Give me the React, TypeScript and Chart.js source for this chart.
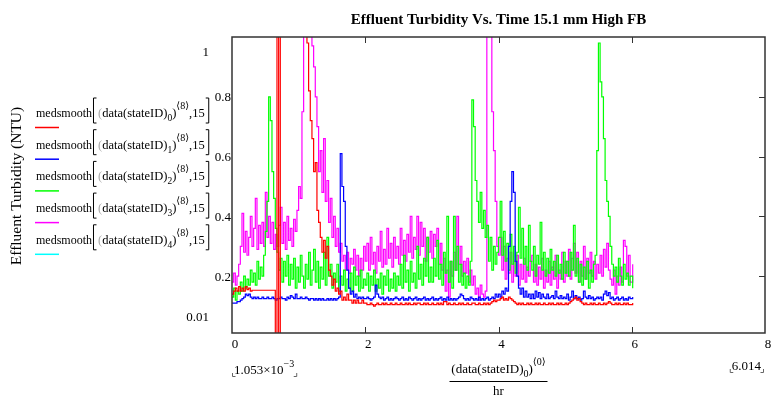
import Chart from 'chart.js/auto'
import { useEffect, useRef } from 'react'

// time in hours (x axis), one row per half hour
const TIME_HR = [
  0.001053, 0.025, 0.05, 0.075, 0.1, 0.125, 0.15, 0.175, 0.2, 0.225, 0.25, 0.275, 0.3, 0.325, 0.35, 0.375, 0.4, 0.425, 0.45, 0.475,
  0.5, 0.525, 0.55, 0.575, 0.6, 0.625, 0.65, 0.675, 0.7, 0.725, 0.75, 0.775, 0.8, 0.825, 0.85, 0.875, 0.9, 0.925, 0.95, 0.975,
  1.0, 1.025, 1.05, 1.075, 1.1, 1.125, 1.15, 1.175, 1.2, 1.225, 1.25, 1.275, 1.3, 1.325, 1.35, 1.375, 1.4, 1.425, 1.45, 1.475,
  1.5, 1.525, 1.55, 1.575, 1.6, 1.625, 1.65, 1.675, 1.7, 1.725, 1.75, 1.775, 1.8, 1.825, 1.85, 1.875, 1.9, 1.925, 1.95, 1.975,
  2.0, 2.025, 2.05, 2.075, 2.1, 2.125, 2.15, 2.175, 2.2, 2.225, 2.25, 2.275, 2.3, 2.325, 2.35, 2.375, 2.4, 2.425, 2.45, 2.475,
  2.5, 2.525, 2.55, 2.575, 2.6, 2.625, 2.65, 2.675, 2.7, 2.725, 2.75, 2.775, 2.8, 2.825, 2.85, 2.875, 2.9, 2.925, 2.95, 2.975,
  3.0, 3.025, 3.05, 3.075, 3.1, 3.125, 3.15, 3.175, 3.2, 3.225, 3.25, 3.275, 3.3, 3.325, 3.35, 3.375, 3.4, 3.425, 3.45, 3.475,
  3.5, 3.525, 3.55, 3.575, 3.6, 3.625, 3.65, 3.675, 3.7, 3.725, 3.75, 3.775, 3.8, 3.825, 3.85, 3.875, 3.9, 3.925, 3.95, 3.975,
  4.0, 4.025, 4.05, 4.075, 4.1, 4.125, 4.15, 4.175, 4.2, 4.225, 4.25, 4.275, 4.3, 4.325, 4.35, 4.375, 4.4, 4.425, 4.45, 4.475,
  4.5, 4.525, 4.55, 4.575, 4.6, 4.625, 4.65, 4.675, 4.7, 4.725, 4.75, 4.775, 4.8, 4.825, 4.85, 4.875, 4.9, 4.925, 4.95, 4.975,
  5.0, 5.025, 5.05, 5.075, 5.1, 5.125, 5.15, 5.175, 5.2, 5.225, 5.25, 5.275, 5.3, 5.325, 5.35, 5.375, 5.4, 5.425, 5.45, 5.475,
  5.5, 5.525, 5.55, 5.575, 5.6, 5.625, 5.65, 5.675, 5.7, 5.725, 5.75, 5.775, 5.8, 5.825, 5.85, 5.875, 5.9, 5.925, 5.95, 5.975,
  6.014
]

// effluent turbidity (NTU), one list per filter column
const COL0 = [
  0.14, 0.15, 0.16, 0.15, 0.165, 0.15, 0.16, 0.15, 0.165, 0.155, 0.16, 0.15, 0.153, 0.153, 0.153, 0.153, 0.153, 0.153, 0.153, 0.153,
  0.153, 0.153, 0.153, 0.153, 0.153, 0.153, -0.3, 1.5, -0.3, 1.5, 1.5, 1.5, 1.5, 1.5, 1.5, 1.5, 1.5, 1.5, 1.5, 1.5,
  1.5, 1.5, 1.5, 1.5, 1.5, 0.98, 0.82, 0.72, 0.66, 0.55, 0.58, 0.42, 0.38, 0.33, 0.28, 0.32, 0.26, 0.3, 0.22, 0.2,
  0.17, 0.19, 0.15, 0.16, 0.14, 0.15, 0.12, 0.13, 0.12, 0.14, 0.12, 0.12, 0.11, 0.12, 0.11, 0.12, 0.11, 0.11, 0.12, 0.11,
  0.11, 0.105, 0.105, 0.11, 0.105, 0.1, 0.105, 0.11, 0.105, 0.105, 0.11, 0.105, 0.11, 0.105, 0.105, 0.11, 0.105, 0.105, 0.11, 0.105,
  0.105, 0.11, 0.105, 0.105, 0.11, 0.105, 0.11, 0.105, 0.105, 0.11, 0.105, 0.11, 0.11, 0.105, 0.105, 0.11, 0.105, 0.11, 0.105, 0.105,
  0.11, 0.105, 0.105, 0.11, 0.105, 0.11, 0.105, 0.115, 0.115, 0.105, 0.11, 0.105, 0.105, 0.11, 0.105, 0.105, 0.11, 0.105, 0.11, 0.105,
  0.105, 0.11, 0.105, 0.105, 0.11, 0.11, 0.105, 0.105, 0.11, 0.105, 0.105, 0.11, 0.105, 0.11, 0.105, 0.11, 0.115, 0.12, 0.115, 0.12,
  0.12, 0.125, 0.13, 0.12, 0.125, 0.12, 0.13, 0.125, 0.12, 0.115, 0.11, 0.105, 0.11, 0.105, 0.11, 0.105, 0.105, 0.11, 0.105, 0.11,
  0.105, 0.105, 0.11, 0.105, 0.11, 0.105, 0.105, 0.11, 0.105, 0.105, 0.11, 0.105, 0.11, 0.105, 0.105, 0.11, 0.105, 0.11, 0.105, 0.105,
  0.11, 0.105, 0.11, 0.115, 0.12, 0.125, 0.13, 0.12, 0.125, 0.115, 0.11, 0.105, 0.11, 0.105, 0.105, 0.11, 0.105, 0.11, 0.105, 0.105,
  0.11, 0.105, 0.105, 0.11, 0.105, 0.11, 0.115, 0.11, 0.105, 0.105, 0.11, 0.105, 0.11, 0.105, 0.105, 0.11, 0.105, 0.11, 0.105, 0.105,
  0.11
]

const COL1 = [
  0.11, 0.11, 0.11, 0.115, 0.115, 0.12, 0.125, 0.13, 0.14, 0.135, 0.14, 0.13, 0.125, 0.13, 0.125, 0.13, 0.125, 0.125, 0.13, 0.125,
  0.125, 0.13, 0.125, 0.125, 0.13, 0.125, 0.12, 0.125, 0.125, 0.13, 0.125, 0.125, 0.12, 0.13, 0.125, 0.135, 0.13, 0.125, 0.14, 0.125,
  0.125, 0.13, 0.125, 0.125, 0.13, 0.125, 0.12, 0.125, 0.125, 0.12, 0.125, 0.12, 0.125, 0.12, 0.125, 0.12, 0.12, 0.125, 0.12, 0.125,
  0.12, 0.125, 0.12, 0.125, 0.13, 0.61, 0.5, 0.45, 0.3, 0.22, 0.16, 0.14, 0.15, 0.13, 0.14, 0.125, 0.13, 0.125, 0.13, 0.125,
  0.125, 0.13, 0.125, 0.12, 0.125, 0.13, 0.17, 0.14, 0.13, 0.125, 0.13, 0.12, 0.125, 0.13, 0.12, 0.125, 0.12, 0.125, 0.13, 0.125,
  0.12, 0.125, 0.13, 0.12, 0.125, 0.12, 0.13, 0.125, 0.12, 0.125, 0.13, 0.12, 0.125, 0.12, 0.125, 0.13, 0.12, 0.125, 0.12, 0.125,
  0.13, 0.12, 0.125, 0.12, 0.125, 0.13, 0.12, 0.125, 0.12, 0.13, 0.12, 0.125, 0.12, 0.125, 0.12, 0.125, 0.13, 0.14, 0.135, 0.125,
  0.12, 0.125, 0.12, 0.13, 0.125, 0.12, 0.125, 0.12, 0.13, 0.12, 0.125, 0.12, 0.125, 0.13, 0.12, 0.125, 0.13, 0.125, 0.14, 0.13,
  0.14, 0.13, 0.15, 0.14, 0.16, 0.15, 0.3, 0.45, 0.55, 0.48, 0.25, 0.2, 0.16, 0.14, 0.16, 0.13, 0.15, 0.13, 0.14, 0.125,
  0.14, 0.125, 0.15, 0.13, 0.145, 0.125, 0.14, 0.13, 0.125, 0.14, 0.125, 0.13, 0.135, 0.125, 0.15, 0.13, 0.125, 0.135, 0.125, 0.13,
  0.125, 0.14, 0.12, 0.13, 0.15, 0.125, 0.135, 0.125, 0.13, 0.12, 0.125, 0.15, 0.13, 0.125, 0.135, 0.125, 0.13, 0.12, 0.125, 0.13,
  0.125, 0.13, 0.12, 0.14, 0.15, 0.135, 0.145, 0.125, 0.13, 0.12, 0.125, 0.13, 0.12, 0.125, 0.13, 0.12, 0.125, 0.12, 0.13, 0.125,
  0.13
]

const COL2 = [
  0.13, 0.16, 0.12, 0.15, 0.14, 0.18, 0.15, 0.2, 0.16, 0.19, 0.17, 0.22, 0.18, 0.21, 0.17, 0.25, 0.19, 0.23, 0.2, 0.27,
  0.35, 0.45, 0.8, 0.72, 0.55, 0.46, 0.36, 0.28, 0.22, 0.26, 0.18, 0.25, 0.2, 0.27, 0.17, 0.24, 0.19, 0.26, 0.16, 0.23,
  0.18, 0.27, 0.2, 0.16, 0.24, 0.19, 0.28, 0.17, 0.22, 0.29, 0.18, 0.25, 0.16, 0.23, 0.19, 0.28, 0.17, 0.33, 0.2, 0.24,
  0.16, 0.21, 0.18, 0.24, 0.15, 0.2, 0.17, 0.22, 0.15, 0.19, 0.16, 0.21, 0.15, 0.23, 0.17, 0.2, 0.15, 0.22, 0.16, 0.19,
  0.17, 0.21, 0.15, 0.2, 0.17, 0.22, 0.15, 0.19, 0.16, 0.21, 0.14, 0.2, 0.17, 0.22, 0.15, 0.19, 0.16, 0.21, 0.15, 0.2,
  0.17, 0.24, 0.16, 0.27, 0.18, 0.22, 0.15, 0.25, 0.18, 0.21, 0.16, 0.3, 0.19, 0.24, 0.17, 0.26, 0.2, 0.33, 0.18, 0.23,
  0.18, 0.26, 0.2, 0.32, 0.19, 0.24, 0.17, 0.28, 0.21, 0.4, 0.18, 0.25, 0.16, 0.4, 0.22, 0.3, 0.18, 0.24, 0.17, 0.21,
  0.16, 0.2, 0.17, 0.25, 0.79, 0.7, 0.52, 0.45, 0.38, 0.48, 0.36, 0.42, 0.33, 0.37, 0.25, 0.33, 0.22, 0.3, 0.24, 0.28,
  0.33, 0.45, 0.27, 0.35, 0.25, 0.31, 0.22, 0.34, 0.24, 0.3, 0.21, 0.28, 0.43, 0.26, 0.36, 0.24, 0.3, 0.22, 0.37, 0.25,
  0.22, 0.3, 0.2, 0.27, 0.24, 0.38, 0.22, 0.28, 0.2, 0.26, 0.21, 0.29, 0.22, 0.25, 0.2, 0.27, 0.21, 0.24, 0.19, 0.28,
  0.21, 0.25, 0.2, 0.28, 0.22, 0.37, 0.2, 0.26, 0.18, 0.24, 0.17, 0.23, 0.19, 0.25, 0.16, 0.22, 0.18, 0.24, 0.27, 0.62,
  0.98, 0.85, 0.8, 0.66, 0.52, 0.45, 0.4, 0.3, 0.24, 0.2, 0.23, 0.18, 0.26, 0.2, 0.17, 0.24, 0.19, 0.21, 0.17, 0.2,
  0.16
]

const COL3 = [
  0.18, 0.21, 0.17, 0.2, 0.24, 0.3, 0.41, 0.28, 0.35, 0.27, 0.33, 0.4, 0.3, 0.36, 0.46, 0.29, 0.37, 0.31, 0.38, 0.3,
  0.48, 0.33, 0.4, 0.31, 0.38, 0.29, 0.34, 0.3, 0.37, 0.43, 0.31, 0.38, 0.29, 0.4, 0.32, 0.36, 0.3, 0.39, 0.35, 0.42,
  0.5, 0.46, 0.75, 1.2, 1.2, 1.2, 1.2, 1.2, 0.97, 0.9, 0.8, 0.7, 0.55, 0.62, 0.48, 0.66, 0.45, 0.52, 0.38, 0.46,
  0.33, 0.4, 0.3, 0.36, 0.28, 0.31, 0.25, 0.27, 0.22, 0.28, 0.21, 0.26, 0.24, 0.29, 0.22, 0.27, 0.2, 0.26, 0.22, 0.3,
  0.25, 0.31, 0.22, 0.33, 0.24, 0.28, 0.21, 0.3, 0.25, 0.35, 0.23, 0.29, 0.24, 0.36, 0.26, 0.31, 0.23, 0.33, 0.26, 0.3,
  0.24, 0.36, 0.27, 0.32, 0.25, 0.34, 0.28, 0.4, 0.26, 0.33, 0.29, 0.4, 0.27, 0.38, 0.3, 0.36, 0.25, 0.33, 0.28, 0.35,
  0.26, 0.34, 0.3, 0.36, 0.24, 0.31, 0.22, 0.26, 0.15, 0.22, 0.13, 0.25, 0.2, 0.28, 0.22, 0.4, 0.24, 0.3, 0.2, 0.25,
  0.21, 0.26, 0.18, 0.22, 0.17, 0.2, 0.14, 0.16, 0.12, 0.17, 0.14, 0.13, 0.15, 1.2, 1.2, 1.2, 0.75, 0.62, 0.45, 0.3,
  0.27, 0.33, 0.22, 0.3, 0.19, 0.26, 0.21, 0.28, 0.18, 0.25, 0.2, 0.27, 0.17, 0.24, 0.19, 0.26, 0.18, 0.23, 0.2, 0.25,
  0.27, 0.18, 0.24, 0.17, 0.23, 0.19, 0.26, 0.16, 0.22, 0.18, 0.25, 0.17, 0.23, 0.19, 0.27, 0.16, 0.22, 0.19, 0.28, 0.18,
  0.25, 0.2, 0.29, 0.19, 0.26, 0.31, 0.21, 0.28, 0.18, 0.25, 0.2, 0.3, 0.19, 0.26, 0.21, 0.28, 0.2, 0.25, 0.19, 0.24,
  0.21, 0.27, 0.2, 0.29, 0.23, 0.31, 0.22, 0.19, 0.17, 0.22, 0.14, 0.2, 0.17, 0.23, 0.18, 0.32, 0.3, 0.2, 0.27, 0.18,
  0.24
]

const COL4: number[] = []

const SERIES = [COL0, COL1, COL2, COL3, COL4]
const SERIES_INDEX = ['0', '1', '2', '3', '4']
const COLORS = ['#ff0000', '#0000ff', '#00ff00', '#ff00ff', '#00ffff']

const X_LABELS = [0, 2, 4, 6, 8]
const X_INNER_TICKS = [2, 4, 6]
const Y_TICKS = [0.2, 0.4, 0.6, 0.8]
const Y_MIN = 0.01
const Y_MAX = 1
const X_RANGE_LABELS = ['1.053×10', '6.014']

const TITLE = 'Effluent Turbidity Vs. Time 15.1 mm High FB'
const Y_TITLE = 'Effluent Turbidity (NTU)'

const SERIF = '"Liberation Serif", "DejaVu Serif", serif'

type Run = { t: string; size: number; dy: number; color?: string }

function runsWidth(ctx: CanvasRenderingContext2D, runs: Run[]) {
  let w = 0
  for (const r of runs) {
    ctx.font = `${r.size}px ${SERIF}`
    w += ctx.measureText(r.t).width
  }
  return w
}

function drawRuns(ctx: CanvasRenderingContext2D, runs: Run[], x: number, y: number) {
  ctx.textAlign = 'left'
  ctx.textBaseline = 'alphabetic'
  for (const r of runs) {
    ctx.font = `${r.size}px ${SERIF}`
    ctx.fillStyle = r.color ?? '#000'
    ctx.fillText(r.t, x, y + r.dy)
    x += ctx.measureText(r.t).width
  }
  return x
}

function bracket(ctx: CanvasRenderingContext2D, x: number, b: number, open: boolean) {
  const d = open ? 3 : -3
  ctx.beginPath()
  ctx.moveTo(x + d, b - 19)
  ctx.lineTo(x, b - 19)
  ctx.lineTo(x, b + 6)
  ctx.lineTo(x + d, b + 6)
  ctx.strokeStyle = '#000'
  ctx.lineWidth = 1
  ctx.stroke()
}

const decorations = {
  id: 'decorations',
  afterDraw(chart: any) {
    const { ctx, chartArea: a, scales } = chart
    const xs = scales.x
    const ys = scales.y
    ctx.save()

    // frame and inner ticks
    ctx.strokeStyle = '#333'
    ctx.lineWidth = 1.5
    ctx.strokeRect(a.left, a.top, a.right - a.left, a.bottom - a.top)
    ctx.beginPath()
    for (const v of X_INNER_TICKS) {
      const px = Math.round(xs.getPixelForValue(v)) + 0.5
      ctx.moveTo(px, a.top)
      ctx.lineTo(px, a.top + 6)
      ctx.moveTo(px, a.bottom)
      ctx.lineTo(px, a.bottom - 6)
    }
    for (const v of Y_TICKS) {
      const py = Math.round(ys.getPixelForValue(v)) + 0.5
      ctx.moveTo(a.right, py)
      ctx.lineTo(a.right - 6, py)
    }
    ctx.lineWidth = 1
    ctx.stroke()

    // tick labels
    ctx.fillStyle = '#000'
    ctx.font = `13px ${SERIF}`
    ctx.textAlign = 'right'
    ctx.textBaseline = 'middle'
    for (const v of Y_TICKS) {
      ctx.fillText(String(v), a.left - 1, ys.getPixelForValue(v) + 1)
    }
    ctx.fillText(String(Y_MAX), a.left - 23, ys.getPixelForValue(Y_MAX) + 16)
    ctx.fillText(String(Y_MIN), a.left - 23, ys.getPixelForValue(Y_MIN) - 15)
    ctx.textAlign = 'center'
    ctx.textBaseline = 'alphabetic'
    for (const v of X_LABELS) {
      ctx.fillText(String(v), xs.getPixelForValue(v) + 3, a.bottom + 15)
    }

    // title
    ctx.font = `bold 15px ${SERIF}`
    ctx.fillText(TITLE, (a.left + a.right) / 2, 24)

    // y axis title
    ctx.save()
    ctx.translate(17, 186)
    ctx.rotate(-Math.PI / 2)
    ctx.font = `15.5px ${SERIF}`
    ctx.textBaseline = 'middle'
    ctx.fillText(Y_TITLE, 0, 0)
    ctx.restore()

    // x axis title as a fraction
    const cx = (a.left + a.right) / 2
    const num: Run[] = [
      { t: '(data(stateID)', size: 13, dy: 0 },
      { t: '0', size: 10, dy: 4 },
      { t: ')', size: 13, dy: 0 },
      { t: '⟨0⟩', size: 10, dy: -8 }
    ]
    const nw = runsWidth(ctx, num)
    drawRuns(ctx, num, cx - nw / 2, a.bottom + 40)
    ctx.beginPath()
    ctx.moveTo(cx - 49, a.bottom + 48.5)
    ctx.lineTo(cx + 49, a.bottom + 48.5)
    ctx.strokeStyle = '#000'
    ctx.lineWidth = 1
    ctx.stroke()
    ctx.font = `13px ${SERIF}`
    ctx.textAlign = 'center'
    ctx.fillStyle = '#000'
    ctx.fillText('hr', cx, a.bottom + 62)

    // data range marks under the axis
    const leftRuns: Run[] = [
      { t: X_RANGE_LABELS[0], size: 13, dy: 0 },
      { t: '−3', size: 10, dy: -7 }
    ]
    const lx = a.left + 2
    const lEnd = drawRuns(ctx, leftRuns, lx, a.bottom + 41)
    ctx.font = `13px ${SERIF}`
    const rw = ctx.measureText(X_RANGE_LABELS[1]).width
    const rx = a.right - 4 - rw
    ctx.fillText(X_RANGE_LABELS[1], rx, a.bottom + 37)
    ctx.strokeStyle = '#666'
    ctx.lineWidth = 1
    ctx.beginPath()
    const corner = (x: number, y: number, dir: number) => {
      ctx.moveTo(x + 0.5, y - 3)
      ctx.lineTo(x + 0.5, y + 0.5)
      ctx.lineTo(x + 0.5 + dir * 3, y + 0.5)
    }
    corner(lx - 2, a.bottom + 43, 1)
    corner(lEnd + 2, a.bottom + 43, -1)
    corner(rx - 2, a.bottom + 39, 1)
    corner(rx + rw + 2, a.bottom + 39, -1)
    ctx.stroke()

    // legend
    chart.data.datasets.forEach((ds: any, i: number) => {
      const b = 117 + i * 31.7
      let x = drawRuns(ctx, [{ t: 'medsmooth', size: 12, dy: 0 }], 36, b)
      bracket(ctx, x + 1.5, b, true)
      x += 6
      x = drawRuns(ctx, [
        { t: '(', size: 12.5, dy: 0, color: '#aaa' },
        { t: 'data(stateID)', size: 12.5, dy: 0 },
        { t: SERIES_INDEX[i], size: 9.5, dy: 4 },
        { t: ')', size: 12.5, dy: 0 },
        { t: '⟨8⟩', size: 10, dy: -8 },
        { t: ',15', size: 12.5, dy: 0 }
      ], x, b)
      bracket(ctx, x + 4, b, false)
      ctx.beginPath()
      ctx.moveTo(35, b + 10.5)
      ctx.lineTo(59, b + 10.5)
      ctx.strokeStyle = ds.borderColor
      ctx.lineWidth = 1.5
      ctx.stroke()
    })

    ctx.restore()
  }
}

export default function App() {
  const canvasRef = useRef<HTMLCanvasElement>(null)

  useEffect(() => {
    if (!canvasRef.current) return
    const chart = new Chart(canvasRef.current, {
      type: 'line',
      data: {
        datasets: SERIES.map((vals, i) => ({
          label: `medsmooth col ${SERIES_INDEX[i]}`,
          data: vals.map((v, j) => ({ x: TIME_HR[j], y: v })),
          borderColor: COLORS[i],
          backgroundColor: COLORS[i],
          borderWidth: 1.2,
          pointRadius: 0,
          stepped: true,
          fill: false
        }))
      },
      options: {
        animation: false,
        responsive: true,
        maintainAspectRatio: false,
        layout: { padding: { left: 232, top: 37, right: 16, bottom: 75 } },
        scales: {
          x: { type: 'linear', min: 0, max: 8, display: false },
          y: { type: 'linear', min: Y_MIN, max: Y_MAX, display: false }
        },
        plugins: {
          legend: { display: false },
          tooltip: { enabled: false },
          title: { display: false }
        }
      },
      plugins: [decorations]
    })
    return () => {
      chart.destroy()
    }
  }, [])

  return (
    <div style={{ position: 'absolute', left: 0, top: 0, width: 781, height: 408, background: '#fff' }}>
      <canvas ref={canvasRef} />
    </div>
  )
}
